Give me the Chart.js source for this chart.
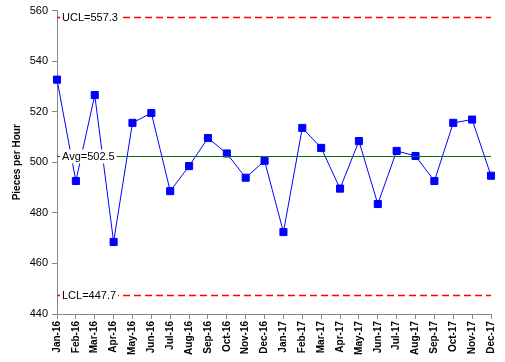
<!DOCTYPE html>
<html>
<head>
<meta charset="utf-8">
<script src="https://cdn.jsdelivr.net/npm/chart.js@4"></script>
<style>
  html, body { margin: 0; padding: 0; background: #fff; }
  #wrap { width: 505px; height: 362px; }
</style>
</head>
<body>
<div id="wrap"><canvas id="chart" width="505" height="362"></canvas></div>
<script>
// months on the x axis
const months = ['Jan-16', 'Feb-16', 'Mar-16', 'Apr-16', 'May-16', 'Jun-16', 'Jul-16', 'Aug-16',
    'Sep-16', 'Oct-16', 'Nov-16', 'Dec-16', 'Jan-17', 'Feb-17', 'Mar-17', 'Apr-17', 'May-17',
    'Jun-17', 'Jul-17', 'Aug-17', 'Sep-17', 'Oct-17', 'Nov-17', 'Dec-17'];

// pieces per hour
const piecesPerHour = [532.7, 492.6, 526.6, 468.5, 515.6, 519.5, 488.6, 498.5, 509.6, 503.5,
    493.9, 500.6, 472.4, 513.6, 505.7, 489.6, 508.4, 483.5, 504.5, 502.5, 492.6, 515.6, 516.9, 494.7];

// control limits
const limitNames = ['UCL', 'Avg', 'LCL'];
const limitValues = [557.3, 502.5, 447.7];

const yTicks = [440, 460, 480, 500, 520, 540, 560];

// draws the UCL / Avg / LCL lines with their labels
const limitLines = {
    id: 'limitLines',
    afterDatasetsDraw(chart) {
        const ctx = chart.ctx;
        const area = chart.chartArea;
        const y = chart.scales.y;
        ctx.save();
        limitNames.forEach((name, i) => {
            const py = Math.round(y.getPixelForValue(limitValues[i])) + 0.5;
            ctx.beginPath();
            if (name === 'Avg') {
                ctx.strokeStyle = '#0a6e0a';
                ctx.lineWidth = 1;
                ctx.setLineDash([]);
            } else {
                ctx.strokeStyle = '#ff0000';
                ctx.lineWidth = 1.5;
                ctx.setLineDash([7, 4]);
            }
            ctx.moveTo(area.left, py);
            ctx.lineTo(area.right, py);
            ctx.stroke();

            const text = name + '=' + limitValues[i].toFixed(1);
            ctx.font = '11px "Liberation Sans", Arial, sans-serif';
            const w = ctx.measureText(text).width;
            ctx.fillStyle = '#ffffff';
            ctx.fillRect(area.left + 3, py - 7, w + 4, 14);
            ctx.fillStyle = '#000000';
            ctx.textBaseline = 'middle';
            ctx.fillText(text, area.left + 5, py);
        });
        ctx.restore();
    }
};

new Chart(document.getElementById('chart'), {
    type: 'line',
    data: {
        labels: months,
        datasets: [{
            label: 'Pieces per Hour',
            data: piecesPerHour,
            borderColor: '#0000ff',
            backgroundColor: '#0000ff',
            borderWidth: 1,
            pointStyle: 'rect',
            pointRadius: 5,
            pointHoverRadius: 5,
            tension: 0
        }]
    },
    options: {
        responsive: false,
        animation: false,
        layout: {
            padding: { top: 6, right: 11, left: 0, bottom: 0 }
        },
        plugins: {
            legend: { display: false },
            tooltip: { enabled: false }
        },
        scales: {
            x: {
                offset: false,
                grid: {
                    display: true,
                    drawOnChartArea: false,
                    drawTicks: true,
                    tickLength: 5,
                    color: '#888888'
                },
                border: { color: '#888888', width: 1 },
                ticks: {
                    autoSkip: false,
                    minRotation: 90,
                    maxRotation: 90,
                    padding: 2,
                    color: '#000000',
                    font: { family: '"Liberation Sans", Arial, sans-serif', size: 10, weight: 'bold' }
                },
                afterFit(scale) { scale.height = 48; }
            },
            y: {
                min: 440,
                max: 560,
                afterBuildTicks(scale) {
                    scale.ticks = yTicks.map(v => ({ value: v }));
                },
                grid: {
                    display: true,
                    drawOnChartArea: false,
                    drawTicks: true,
                    tickLength: 5,
                    color: '#888888'
                },
                border: { color: '#888888', width: 1 },
                ticks: {
                    padding: 4,
                    color: '#000000',
                    font: { family: '"Liberation Sans", Arial, sans-serif', size: 11 }
                },
                title: {
                    display: true,
                    text: 'Pieces per Hour',
                    color: '#000000',
                    padding: { top: 11, bottom: 0 },
                    font: { family: '"Liberation Sans", Arial, sans-serif', size: 10, weight: 'bold' }
                },
                afterFit(scale) { scale.width = 57; }
            }
        }
    },
    plugins: [limitLines]
});
</script>
</body>
</html>
